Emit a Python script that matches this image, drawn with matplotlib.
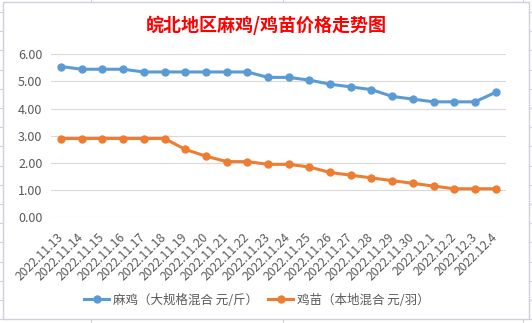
import matplotlib.pyplot as plt
from matplotlib.patches import Rectangle
from matplotlib.lines import Line2D

plt.rcParams['font.family'] = ['Noto Sans CJK SC', 'DejaVu Sans']

dates = ["2022.11.13", "2022.11.14", "2022.11.15", "2022.11.16", "2022.11.17",
         "2022.11.18", "2022.11.19", "2022.11.20", "2022.11.21", "2022.11.22",
         "2022.11.23", "2022.11.24", "2022.11.25", "2022.11.26", "2022.11.27",
         "2022.11.28", "2022.11.29", "2022.11.30", "2022.12.1", "2022.12.2",
         "2022.12.3", "2022.12.4"]
mayji = [5.55, 5.45, 5.45, 5.45, 5.35, 5.35, 5.35, 5.35, 5.35, 5.35, 5.15,
         5.15, 5.05, 4.90, 4.80, 4.70, 4.45, 4.35, 4.25, 4.25, 4.25, 4.60]
jimiao = [2.90, 2.90, 2.90, 2.90, 2.90, 2.90, 2.50, 2.25, 2.05, 2.05, 1.95,
          1.95, 1.85, 1.65, 1.55, 1.45, 1.35, 1.25, 1.15, 1.05, 1.05, 1.05]
yticks = [0, 1, 2, 3, 4, 5, 6]

W, H = 532, 323
fig = plt.figure(figsize=(W / 100, H / 100), dpi=100)
ax = fig.add_axes([50.7 / W, 1 - 217.3 / H, (506 - 50.7) / W, (217.3 - 54.3) / H])

x = range(len(dates))
ax.plot(x, mayji, color="#5B9BD5", lw=2.2, marker="o", ms=5,
        label="麻鸡（大规格混合 元/斤）")
ax.plot(x, jimiao, color="#ED7D31", lw=2.2, marker="o", ms=5,
        label="鸡苗（本地混合 元/羽）")

ax.set_xlim(-0.5, len(dates) - 0.5)
ax.set_ylim(0, 6)
ax.set_yticks(yticks)
ax.set_yticklabels([f"{v:.2f}" for v in yticks])
ax.yaxis.grid(True, color="#d9d9d9", lw=0.8)
ax.set_axisbelow(True)
for s in ax.spines.values():
    s.set_visible(False)
ax.tick_params(axis="y", length=0, pad=6, labelsize=9, labelcolor="#595959")
ax.tick_params(axis="x", length=0, pad=13, labelsize=8.8, labelcolor="#595959")
ax.set_xticks(list(x))
ax.set_xticklabels(dates, rotation=45, ha="right", va="center", rotation_mode="anchor")
for lab in ax.get_xticklabels():
    lab.set_family(['Noto Sans CJK SC'])

fig.text(0.5, 1 - 25 / H, "皖北地区麻鸡/鸡苗价格走势图", color="red", fontsize=13,
         fontweight="bold", ha="center", va="center")

fig.legend(loc="center", bbox_to_anchor=(257 / W, 1 - 300 / H), ncol=2, frameon=False,
           fontsize=9, labelcolor="#595959", handlelength=2.0, columnspacing=0.8,
           handletextpad=0.3)

# chart frame and sheet gridlines around it
fig.patches.append(Rectangle((3 / W, 1 - 319 / H), 526 / W, 317 / H, transform=fig.transFigure,
                             fill=False, edgecolor="#d0d0d8", lw=1))
for yy in [12 + 19.2 * k for k in range(17)]:
    fig.lines.append(Line2D([0, 3 / W], [1 - yy / H] * 2, transform=fig.transFigure,
                            color="#d0d0e0", lw=0.8))
    fig.lines.append(Line2D([529 / W, 1], [1 - yy / H] * 2, transform=fig.transFigure,
                            color="#d0d0e0", lw=0.8))
for xx in [91, 283, 523]:
    fig.lines.append(Line2D([xx / W] * 2, [1 - 2 / H, 1], transform=fig.transFigure,
                            color="#d0d0e0", lw=0.8))
    fig.lines.append(Line2D([xx / W] * 2, [0, 1 - 319 / H], transform=fig.transFigure,
                            color="#d0d0e0", lw=0.8))

fig.savefig("out.png", dpi=100)
